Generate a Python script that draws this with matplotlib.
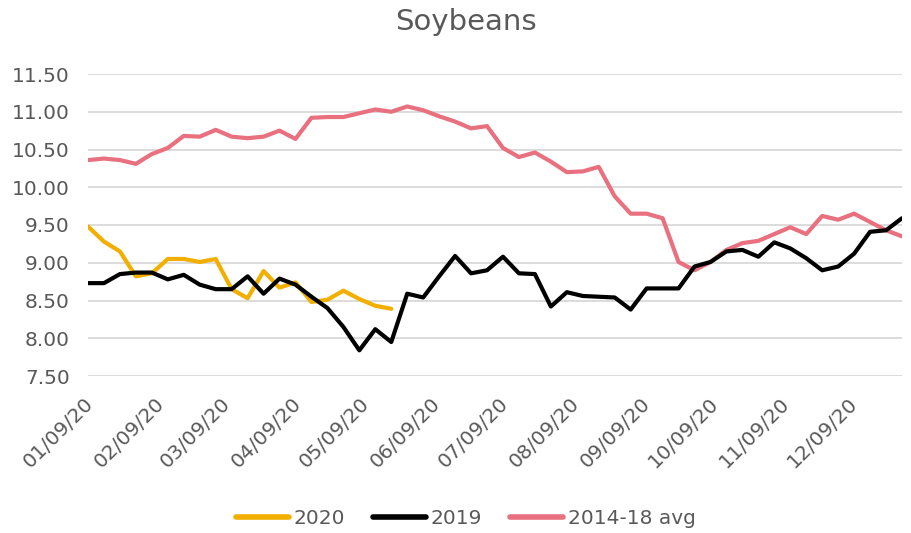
import numpy as np
import pandas as pd
import matplotlib
matplotlib.use("Agg")
import matplotlib.pyplot as plt
import matplotlib.dates as mdates
from matplotlib.transforms import ScaledTranslation

# ---- data ----
dates = pd.date_range("2020-01-09", periods=52, freq="7D")

avg_2014_18 = [10.36, 10.38, 10.36, 10.31, 10.44, 10.52, 10.68, 10.67, 10.76, 10.67,
               10.65, 10.67, 10.75, 10.64, 10.92, 10.93, 10.93, 10.98, 11.03, 11.00,
               11.07, 11.02, 10.94, 10.87, 10.78, 10.81, 10.52, 10.40, 10.46, 10.34,
               10.20, 10.21, 10.27, 9.88, 9.65, 9.65, 9.59, 9.01, 8.90, 9.01,
               9.17, 9.26, 9.29, 9.38, 9.47, 9.38, 9.62, 9.57, 9.65, 9.54,
               9.43, 9.35]

y2019 = [8.73, 8.73, 8.85, 8.87, 8.87, 8.78, 8.84, 8.71, 8.65, 8.65,
         8.82, 8.59, 8.79, 8.71, 8.55, 8.40, 8.15, 7.84, 8.12, 7.95,
         8.59, 8.54, 8.82, 9.09, 8.86, 8.90, 9.08, 8.86, 8.85, 8.42,
         8.61, 8.56, 8.55, 8.54, 8.38, 8.66, 8.66, 8.66, 8.95, 9.01,
         9.15, 9.17, 9.08, 9.27, 9.19, 9.06, 8.90, 8.95, 9.12, 9.41,
         9.43, 9.59]

y2020 = [9.48, 9.28, 9.15, 8.82, 8.86, 9.05, 9.05, 9.01, 9.05, 8.65,
         8.53, 8.89, 8.67, 8.74, 8.48, 8.51, 8.63, 8.52, 8.43, 8.39]

series_labels = ["2020", "2019", "2014-18 avg"]
title = "Soybeans"

# ---- style ----
TXT = "#595959"
plt.rcParams['font.family'] = ['DejaVu Sans']

fig = plt.figure(figsize=(9.12, 5.33), dpi=100)
ax = fig.add_axes([88/912, 1-376/533, (902-88)/912, (376-74)/533])

c2020 = "#F2AF00"
c2019 = "#000000"
cavg = "#E8707F"

ax.plot(dates[:len(y2020)], y2020, color=c2020, lw=3, label=series_labels[0],
        solid_capstyle="round", solid_joinstyle="round", zorder=3)
ax.plot(dates, y2019, color=c2019, lw=3, label=series_labels[1],
        solid_capstyle="round", solid_joinstyle="round", zorder=4)
ax.plot(dates, avg_2014_18, color=cavg, lw=3, label=series_labels[2],
        solid_capstyle="round", solid_joinstyle="round", zorder=2)

ax.set_ylim(7.5, 11.5)
ax.set_yticks(np.arange(7.5, 11.51, 0.5))
ax.yaxis.set_major_formatter(matplotlib.ticker.FormatStrFormatter("%.2f"))
ax.set_xlim(dates[0], dates[-1])
ax.xaxis.set_major_locator(mdates.MonthLocator(bymonthday=9))
ax.xaxis.set_major_formatter(mdates.DateFormatter("%m/%d/%y"))

ax.grid(axis="y", color="#D9D9D9", lw=1.3)
ax.set_axisbelow(True)
for s in ax.spines.values():
    s.set_visible(False)
ax.tick_params(axis="both", length=0, labelsize=14.5, colors=TXT)
ax.tick_params(axis="y", pad=13)
ax.tick_params(axis="x", pad=13, labelrotation=45)

fig.canvas.draw()
off = ScaledTranslation(-4/100, 0, fig.dpi_scale_trans)
for lab in ax.get_xticklabels():
    lab.set_rotation_mode("anchor")
    lab.set_ha("right")
    lab.set_va("top")
    lab.set_transform(lab.get_transform() + off)

fig.text(466/912, 1-22/533, title, ha="center", va="center", fontsize=21, color=TXT)

leg = fig.legend(loc="center", bbox_to_anchor=(466/912, 1-519/533), ncol=3, frameon=False,
                 fontsize=14.5, handlelength=2.6, handletextpad=0.25, columnspacing=1.4)
for t in leg.get_texts():
    t.set_color(TXT)
for h in leg.get_lines():
    h.set_linewidth(4)
    h.set_solid_capstyle("round")

fig.savefig("out.png", dpi=100)
